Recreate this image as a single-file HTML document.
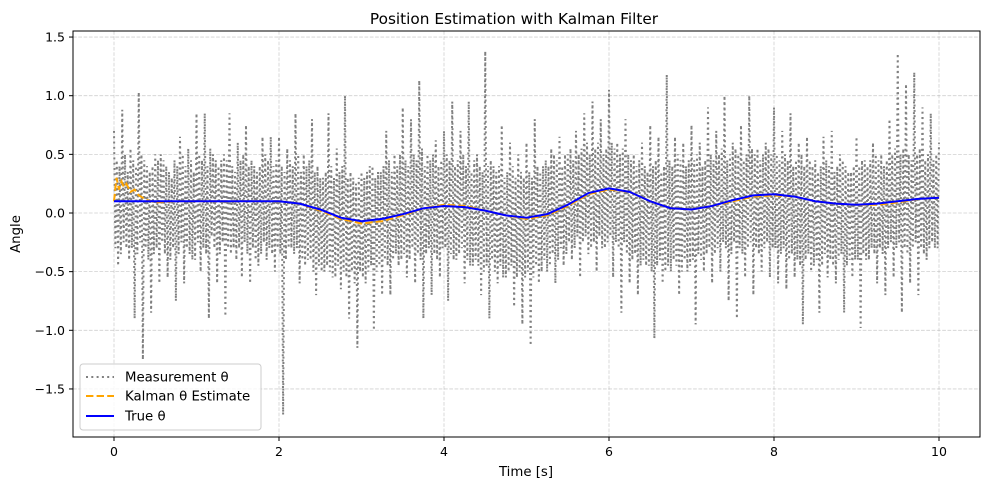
<!DOCTYPE html>
<html><head><meta charset="utf-8"><style>
body{margin:0;background:#fff;font-family:"Liberation Sans","DejaVu Sans",sans-serif}
svg text{font-family:"DejaVu Sans","Liberation Sans",sans-serif}
</style></head><body>
<svg id="chart" width="989" height="490" viewBox="0 0 989 490" xmlns="http://www.w3.org/2000/svg">
<text x="514" y="24" font-size="15.3" text-anchor="middle">Position Estimation with Kalman Filter</text>
<g id="grid"></g>
<g id="series"></g>
<rect x="73" y="31" width="907" height="406" fill="none" stroke="#000" stroke-width="1"/>
<g id="axes"></g>
<text x="526" y="476" font-size="13.3" text-anchor="middle">Time [s]</text>
<text x="20" y="234" font-size="13.3" text-anchor="middle" transform="rotate(-90 20 234)">Angle</text>
<g>
<rect x="80" y="364" width="181" height="66" rx="3" fill="#fff" fill-opacity="0.8" stroke="#ccc"/>
<g><line x1="86" y1="377" x2="114" y2="377" stroke="#808080" stroke-width="2" stroke-dasharray="2,3.3"/><text x="125" y="381.5" font-size="13.3">Measurement θ</text></g>
<g><line x1="86" y1="396" x2="114" y2="396" stroke="orange" stroke-width="2" stroke-dasharray="7.4,3.2"/><text x="125" y="400.5" font-size="13.3">Kalman θ Estimate</text></g>
<g><line x1="86" y1="416" x2="114" y2="416" stroke="blue" stroke-width="2"/><text x="125" y="420.5" font-size="13.3">True θ</text></g>
</g>
</svg>
<script>
const xTicks=[0,2,4,6,8,10];
const yTicks=[1.5,1.0,0.5,0.0,-0.5,-1.0,-1.5];
const yTickLabels=["1.5","1.0","0.5","0.0","−0.5","−1.0","−1.5"];
const measStep=0.05;
const measurement=[0.7,-0.45,0.88,-0.3,0.55,-0.9,1.03,-1.25,0.4,-0.85,
0.5,-0.6,0.45,-0.55,0.3,-0.75,0.65,-0.6,0.55,-0.4,
0.85,-0.5,0.85,-0.9,0.5,-0.6,0.45,-0.88,0.85,-0.3,
0.6,-0.55,0.75,-0.6,0.4,-0.45,0.65,-0.4,0.65,-0.5,
0.65,-1.72,0.55,-0.3,0.85,-0.6,0.5,-0.4,0.8,-0.7,
0.3,-0.5,0.85,-0.55,0.55,-0.65,1.0,-0.9,0.3,-1.15,
0.35,-0.6,0.4,-1.0,0.35,-0.7,0.7,-0.7,0.5,-0.45,
0.9,-0.55,0.8,-0.6,1.13,-0.9,0.5,-0.7,0.62,-0.55,
0.7,-0.75,0.95,-0.4,0.7,-0.6,0.95,-0.45,0.5,-0.7,
1.38,-0.9,0.4,-0.6,0.75,-0.55,0.6,-0.8,0.5,-0.95,
0.6,-1.13,0.8,-0.6,0.4,-0.5,0.55,-0.6,0.65,-0.45,
0.5,-0.4,0.7,-0.55,0.85,-0.35,0.95,-0.5,0.8,-0.3,
1.05,-0.55,0.6,-0.85,0.8,-0.6,0.5,-0.7,0.6,-0.45,
0.75,-1.07,0.65,-0.6,1.18,-0.5,0.65,-0.7,0.6,-0.5,
0.75,-0.95,0.6,-0.5,0.9,-0.6,0.7,-0.5,1.0,-0.75,
0.6,-0.9,0.75,-0.55,1.0,-0.7,0.55,-0.5,0.6,-0.55,
0.9,-0.6,0.7,-0.65,0.85,-0.55,0.6,-0.95,0.65,-0.5,
0.45,-0.85,0.65,-0.55,0.7,-0.6,0.5,-0.85,0.35,-0.55,
0.65,-0.98,0.45,-0.4,0.6,-0.6,0.5,-0.7,0.8,-0.55,
1.36,-0.85,1.1,-0.6,1.2,-0.7,0.9,-0.4,0.85,-0.3,0.6];
const bandHigh=[0.45,0.4,0.5,0.35,0.45,0.4,0.5,0.45,0.35,0.4,0.45,0.5,0.4,0.35,0.45,0.4,0.5,0.4,0.45,0.35,
0.5,0.45,0.4,0.55,0.45,0.4,0.5,0.45,0.4,0.35,0.45,0.5,0.4,0.45,0.35,0.4,0.5,0.45,0.4,0.45,
0.4,0.35,0.45,0.4,0.5,0.35,0.4,0.45,0.35,0.4,0.3,0.35,0.4,0.3,0.35,0.4,0.3,0.35,0.25,0.3,
0.3,0.35,0.4,0.3,0.35,0.4,0.45,0.35,0.4,0.5,0.45,0.4,0.5,0.45,0.55,0.4,0.45,0.5,0.4,0.45,
0.5,0.45,0.4,0.45,0.5,0.4,0.35,0.45,0.4,0.35,0.4,0.45,0.35,0.4,0.3,0.35,0.4,0.3,0.35,0.3,
0.35,0.3,0.4,0.35,0.45,0.4,0.5,0.45,0.4,0.5,0.55,0.45,0.5,0.55,0.6,0.5,0.55,0.6,0.5,0.55,
0.6,0.55,0.5,0.55,0.5,0.45,0.4,0.45,0.4,0.35,0.4,0.45,0.35,0.4,0.45,0.4,0.5,0.45,0.4,0.45,
0.45,0.5,0.4,0.45,0.5,0.45,0.5,0.55,0.45,0.5,0.55,0.5,0.45,0.5,0.55,0.5,0.45,0.5,0.55,0.5,
0.5,0.45,0.5,0.45,0.4,0.45,0.5,0.4,0.45,0.4,0.35,0.4,0.45,0.4,0.35,0.4,0.45,0.4,0.35,0.4,
0.4,0.45,0.4,0.45,0.5,0.45,0.4,0.45,0.5,0.55,0.5,0.55,0.5,0.45,0.5,0.55,0.45,0.5,0.45,0.5];
const bandLow=[-0.3,-0.35,-0.25,-0.4,-0.3,-0.35,-0.25,-0.3,-0.4,-0.35,-0.3,-0.25,-0.35,-0.4,-0.3,-0.35,-0.25,-0.3,-0.35,-0.4,
-0.25,-0.3,-0.35,-0.2,-0.3,-0.35,-0.25,-0.3,-0.35,-0.4,-0.3,-0.25,-0.35,-0.3,-0.4,-0.35,-0.25,-0.3,-0.35,-0.3,
-0.35,-0.4,-0.3,-0.35,-0.3,-0.4,-0.45,-0.4,-0.5,-0.45,-0.5,-0.45,-0.5,-0.55,-0.45,-0.5,-0.55,-0.5,-0.6,-0.5,
-0.55,-0.5,-0.45,-0.5,-0.45,-0.4,-0.45,-0.4,-0.35,-0.4,-0.35,-0.4,-0.3,-0.35,-0.4,-0.35,-0.3,-0.35,-0.4,-0.3,
-0.3,-0.35,-0.4,-0.35,-0.3,-0.4,-0.45,-0.4,-0.45,-0.5,-0.45,-0.4,-0.5,-0.45,-0.55,-0.5,-0.45,-0.55,-0.5,-0.55,
-0.5,-0.55,-0.45,-0.5,-0.4,-0.45,-0.35,-0.4,-0.3,-0.35,-0.25,-0.3,-0.2,-0.25,-0.2,-0.3,-0.25,-0.2,-0.3,-0.25,
-0.2,-0.25,-0.3,-0.25,-0.35,-0.4,-0.35,-0.45,-0.4,-0.45,-0.5,-0.45,-0.4,-0.5,-0.45,-0.4,-0.45,-0.5,-0.4,-0.45,
-0.4,-0.35,-0.4,-0.35,-0.3,-0.35,-0.3,-0.25,-0.3,-0.35,-0.25,-0.3,-0.35,-0.3,-0.25,-0.3,-0.35,-0.3,-0.25,-0.3,
-0.3,-0.35,-0.3,-0.4,-0.35,-0.4,-0.45,-0.4,-0.35,-0.45,-0.4,-0.45,-0.35,-0.4,-0.45,-0.4,-0.35,-0.45,-0.4,-0.4,
-0.4,-0.35,-0.4,-0.3,-0.35,-0.3,-0.35,-0.3,-0.25,-0.3,-0.25,-0.3,-0.35,-0.3,-0.25,-0.3,-0.35,-0.3,-0.25,-0.3];
const trueStep=0.25;
const trueTheta=[0.1,0.1,0.1,0.1,0.1,0.1,0.1,0.1,0.1,0.08,0.03,-0.04,-0.07,-0.05,-0.01,0.04,0.06,0.05,0.02,-0.02,-0.04,-0.01,0.07,0.17,0.21,0.18,0.1,0.04,0.03,0.06,0.11,0.15,0.16,0.14,0.1,0.08,0.07,0.08,0.1,0.12,0.13];
const kalmanT=[0,0.03,0.06,0.09,0.12,0.15,0.2,0.25,0.3,0.4,0.5,0.75,1,1.5,2,2.25,2.5,2.75,3,3.25,3.5,3.75,4,4.25,4.5,4.75,5,5.25,5.5,5.75,6,6.25,6.5,6.75,7,7.25,7.5,7.75,8,8.25,8.5,8.75,9,9.25,9.5,9.75,10];
const kalmanV=[0.1,0.3,0.2,0.27,0.22,0.25,0.18,0.2,0.15,0.11,0.09,0.1,0.1,0.1,0.1,0.08,0.02,-0.05,-0.09,-0.07,-0.02,0.04,0.07,0.06,0.02,-0.02,-0.05,-0.02,0.06,0.16,0.2,0.18,0.1,0.04,0.03,0.06,0.1,0.14,0.15,0.14,0.1,0.08,0.07,0.07,0.09,0.12,0.13];
const NS="http://www.w3.org/2000/svg";
const X=v=>114+v*82.5, Y=v=>213-v*117.3;
const grid=document.getElementById('grid'),axes=document.getElementById('axes'),ser=document.getElementById('series');
function mk(tag,attrs,parent){const e=document.createElementNS(NS,tag);for(const k in attrs)e.setAttribute(k,attrs[k]);parent.appendChild(e);return e;}
xTicks.forEach(t=>{
 const g=mk('line',{x1:X(t),x2:X(t),y1:31,y2:437,stroke:'#b0b0b0','stroke-opacity':0.6,'stroke-dasharray':'3.7,1.6','stroke-width':0.8},grid);
 
 
 mk('line',{x1:X(t),x2:X(t),y1:437,y2:441,stroke:'#000'},axes);
 const l=mk('text',{x:X(t),y:456,'font-size':12.5,'text-anchor':'middle'},axes);l.textContent=t;
 
 
});
yTicks.forEach((t,i)=>{
 const g=mk('line',{x1:73,x2:980,y1:Y(t),y2:Y(t),stroke:'#b0b0b0','stroke-opacity':0.6,'stroke-dasharray':'3.7,1.6','stroke-width':0.8},grid);
 
 
 mk('line',{x1:69,x2:73,y1:Y(t),y2:Y(t),stroke:'#000'},axes);
 const l=mk('text',{x:65,y:Y(t)+4.5,'font-size':12.5,'text-anchor':'end'},axes);l.textContent=yTickLabels[i];
 
 
});
const mp=[];
for(let i=0;i<measurement.length;i++){
 const t=i*measStep;
 mp.push(X(t)+','+Y(measurement[i]));
 if(i<measurement.length-1){
  const a=(i%2===0)?bandLow[i]:bandHigh[i], b=(i%2===0)?bandHigh[i]:bandLow[i];
  mp.push(X(t+measStep/3)+','+Y(a));
  mp.push(X(t+2*measStep/3)+','+Y(b));
 }
}
const pm=mk('polyline',{points:mp.join(' '),fill:'none',stroke:'#808080','stroke-width':2,'stroke-dasharray':'2,3.3'},ser);


const pk=mk('polyline',{points:kalmanT.map((t,i)=>X(t)+','+Y(kalmanV[i])).join(' '),fill:'none',stroke:'orange','stroke-width':2,'stroke-dasharray':'7.4,3.2'},ser);


const pt=mk('polyline',{points:trueTheta.map((v,i)=>X(i*trueStep)+','+Y(v)).join(' '),fill:'none',stroke:'blue','stroke-width':2,'stroke-linejoin':'round'},ser);


</script>
</body></html>
